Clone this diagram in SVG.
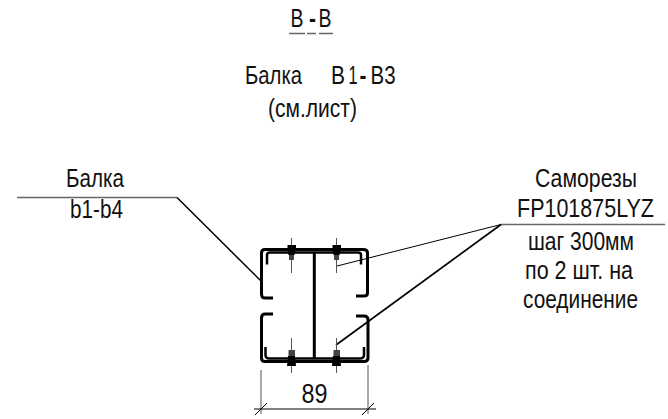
<svg xmlns="http://www.w3.org/2000/svg" width="668" height="419" viewBox="0 0 668 419">
<style>
text{font-family:"Liberation Sans",Arial,sans-serif;fill:#111;text-anchor:middle}
.t{font-size:25px}
.d{font-weight:bold}
.p{fill:none;stroke:#000;stroke-linejoin:round;stroke-linecap:butt}
.g{stroke:#666;stroke-width:1.3;fill:none}
.l{stroke:#000;fill:none}
.s{stroke:#555;stroke-width:1;fill:none}
</style>
<rect width="668" height="419" fill="#fff"/>
<g id="title">
<text class="t" x="297" y="27" textLength="13" lengthAdjust="spacingAndGlyphs">B</text>
<text class="t d" x="312.500" y="27" textLength="7" lengthAdjust="spacingAndGlyphs">-</text>
<text class="t" x="325" y="27" textLength="13" lengthAdjust="spacingAndGlyphs">B</text>
<path class="g" d="M289 33.500H305M307 33.500H316M319 33.500H333"/>
</g>
<g id="note-top">
<text class="t" x="273.500" y="84" textLength="57" lengthAdjust="spacingAndGlyphs">Балка</text>
<text class="t" x="338" y="84" textLength="14" lengthAdjust="spacingAndGlyphs">B</text>
<text class="t" x="353" y="84" textLength="9" lengthAdjust="spacingAndGlyphs">1</text>
<text class="t d" x="363" y="84" textLength="7" lengthAdjust="spacingAndGlyphs">-</text>
<text class="t" x="383" y="84" textLength="25" lengthAdjust="spacingAndGlyphs">B3</text>
<text class="t" x="312.500" y="117" textLength="89" lengthAdjust="spacingAndGlyphs">(см.лист)</text>
</g>
<g id="label-beam">
<text class="t" x="95" y="187" textLength="58" lengthAdjust="spacingAndGlyphs">Балка</text>
<text class="t" x="96.500" y="217.500" textLength="53" lengthAdjust="spacingAndGlyphs">b1-b4</text>
</g>
<g id="label-screws">
<text class="t" x="586" y="187" textLength="102" lengthAdjust="spacingAndGlyphs">Саморезы</text>
<text class="t" x="585.500" y="217" textLength="137" lengthAdjust="spacingAndGlyphs">FP101875LYZ</text>
<text class="t" x="581" y="250" textLength="106" lengthAdjust="spacingAndGlyphs">шаг 300мм</text>
<text class="t" x="579" y="278.500" textLength="108" lengthAdjust="spacingAndGlyphs">по 2 шт. на</text>
<text class="t" x="580.500" y="308" textLength="115" lengthAdjust="spacingAndGlyphs">соединение</text>
</g>
<g id="connectors">
<path class="g" d="M17 197.500H177"/>
<path class="l" stroke-width="1.500" d="M177 197.500L262 282"/>
<path class="g" d="M501 224.500H665"/>
<path class="l" stroke-width="1" d="M501 224.500L337 266"/>
<path class="l" stroke-width="1.700" d="M501 224.500L336 345"/>
</g>
<g id="section">
<path class="p" stroke-width="3" d="M273 298H265Q261.500 298 261.500 294V253Q261.500 249.500 265 249.500H363Q367.500 249.500 367.500 253V293Q367.500 296 364 296H356"/>
<path class="p" stroke-width="2.500" d="M267 264.500V255Q267 252.500 270 252.500H358Q361 252.500 361 255V264.500"/>
<path class="p" stroke-width="3" d="M273 314H265Q261.500 314 261.500 318V358Q261.500 361.500 265 361.500H364Q368 361.500 368 358V320Q368 316 364 316H356"/>
<path class="p" stroke-width="2.500" d="M265.500 347V355Q265.500 358.500 269 358.500H360Q364 358.500 364 355V347"/>
<path class="p" stroke-width="3" d="M314.300 252V358"/>
</g>
<g id="screws">
<path class="s" d="M291.500 238V273M336.500 238V273M291.500 338V373M336.500 338V373"/>
<path fill="#000" d="M287.500 245H296V250L294.500 255H288.500L287.500 250ZM332.500 245H341V250L339.500 255H333.500L332.500 250Z"/>
<path fill="#444" d="M289 255H294V260H289ZM334 255H339V260H334ZM288.500 350H295V356H288.500ZM333.500 350H340V356H333.500Z"/>
<path fill="#000" d="M288 356H295L296 366H287ZM333 356H340L341 366H332Z"/>
</g>
<g id="dimension">
<path class="s" d="M261 370V414M368 365V414"/>
<path class="l" stroke-width="1" d="M254 409H376M255 415L267 403M362 415L374 403"/>
<text x="314.500" y="403" font-size="27" textLength="26" lengthAdjust="spacingAndGlyphs">89</text>
</g>
</svg>
